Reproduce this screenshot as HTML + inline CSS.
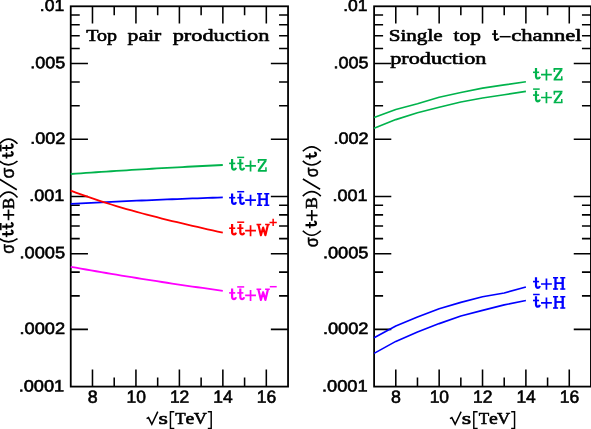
<!DOCTYPE html>
<html><head><meta charset="utf-8"><title>plot</title>
<style>
html,body{margin:0;padding:0;background:#fff;}
body{width:591px;height:429px;overflow:hidden;}
svg{display:block;will-change:transform;}
.ax{stroke:#000;fill:none;stroke-width:1.8;}
.tk{stroke:#000;stroke-width:1.55;fill:none;}
.num{text-rendering:geometricPrecision;font-family:"Liberation Sans",sans-serif;font-size:16.5px;fill:#000;stroke:#000;stroke-width:0.6;}
.ser{font-family:"Liberation Serif",serif;stroke-width:0.6px;stroke-linejoin:round;}
.sb{font-family:"Liberation Sans",sans-serif;stroke:#000;stroke-width:0.5px;}
.cv{fill:none;stroke-linejoin:round;stroke-linecap:butt;}
.ln{fill:none;stroke-linecap:butt;}
</style></head><body>
<svg width="591" height="429" viewBox="0 0 591 429">
<defs>
<g id="gt" fill="none"><path stroke-width="2.2" d="M0 -12V-3.7Q0 -1.5 2 -1.5Q3.4 -1.5 3.9 -3.3"/><path stroke-width="1.6" d="M-3 -7.7H3.1"/></g>
<g id="gZ" fill="none"><path stroke-width="1.7" d="M0.2 -11.45H9.1M0.2 -0.6H9.1"/><path stroke-width="1.5" d="M0.95 -11.45V-8.4M8.35 -0.6V-4.1"/><path stroke-width="2.2" d="M8.1 -10.8L1.2 -1.25"/></g>
<g id="gH" fill="none"><path stroke-width="2.3" d="M2.5 -12.2V-0.2M9.7 -12.2V-0.2"/><path stroke-width="1.5" d="M0 -11.85H5.1M7.2 -11.85H12.3M0 -0.55H5.1M7.2 -0.55H12.3"/><path stroke-width="1.8" d="M2.5 -6.5H9.7"/></g>
<g id="gW" fill="none"><path stroke-width="2.15" stroke-linejoin="round" d="M1.9 -11.4L4.4 -1.0L6.65 -8.7L8.9 -1.0L11.4 -11.4"/><path stroke-width="1.5" d="M0 -11.65H4.7M8.6 -11.65H13.3"/></g>
<g id="gp" fill="none"><path stroke-width="1.7" d="M-5.4 -5.3H5.4M0 -10.7V0.4"/></g>
</defs>
<rect x="0" y="0" width="591" height="429" fill="#fff"/>
<path class="tk" d="M70.75 329.36h17.2M288.05 329.36h-17.2M70.75 295.88h9M288.05 295.88h-9M70.75 272.12h9M288.05 272.12h-9M70.75 253.69h17.2M288.05 253.69h-17.2M70.75 238.63h9M288.05 238.63h-9M70.75 225.9h9M288.05 225.9h-9M70.75 214.88h9M288.05 214.88h-9M70.75 205.15h9M288.05 205.15h-9M70.75 196.45h17.2M288.05 196.45h-17.2M70.75 139.21h17.2M288.05 139.21h-17.2M70.75 105.73h9M288.05 105.73h-9M70.75 81.97h9M288.05 81.97h-9M70.75 63.54h17.2M288.05 63.54h-17.2M70.75 48.48h9M288.05 48.48h-9M70.75 35.75h9M288.05 35.75h-9M70.75 24.73h9M288.05 24.73h-9M70.75 15h9M288.05 15h-9M92.48 6.3v17.2M92.48 386.6v-17.2M114.21 6.3v9M114.21 386.6v-9M135.94 6.3v17.2M135.94 386.6v-17.2M157.67 6.3v9M157.67 386.6v-9M179.4 6.3v17.2M179.4 386.6v-17.2M201.13 6.3v9M201.13 386.6v-9M222.86 6.3v17.2M222.86 386.6v-17.2M244.59 6.3v9M244.59 386.6v-9M266.32 6.3v17.2M266.32 386.6v-17.2"/>
<rect class="ax" x="70.75" y="6.3" width="217.3" height="380.3"/>
<text class="num" x="64.25" y="11" transform="rotate(0.1 64.25 11)" text-anchor="end" textLength="24.4" lengthAdjust="spacingAndGlyphs">.01</text>
<text class="num" x="65.15" y="68.24" transform="rotate(0.1 65.15 68.24)" text-anchor="end" textLength="35.0" lengthAdjust="spacingAndGlyphs">.005</text>
<text class="num" x="65.15" y="143.91" transform="rotate(0.1 65.15 143.91)" text-anchor="end" textLength="35.0" lengthAdjust="spacingAndGlyphs">.002</text>
<text class="num" x="64.25" y="201.15" transform="rotate(0.1 64.25 201.15)" text-anchor="end" textLength="35.0" lengthAdjust="spacingAndGlyphs">.001</text>
<text class="num" x="65.15" y="258.39" transform="rotate(0.1 65.15 258.39)" text-anchor="end" textLength="45.6" lengthAdjust="spacingAndGlyphs">.0005</text>
<text class="num" x="65.15" y="334.06" transform="rotate(0.1 65.15 334.06)" text-anchor="end" textLength="45.6" lengthAdjust="spacingAndGlyphs">.0002</text>
<text class="num" x="64.25" y="391.6" transform="rotate(0.1 64.25 391.6)" text-anchor="end" textLength="45.6" lengthAdjust="spacingAndGlyphs">.0001</text>
<text class="num" x="92.68" y="402.75" style="font-size:17.6px" transform="rotate(0.1 92.68 402.75)" text-anchor="middle" textLength="9.9" lengthAdjust="spacingAndGlyphs">8</text>
<text class="num" x="136.14" y="402.75" style="font-size:17.6px" transform="rotate(0.1 136.14 402.75)" text-anchor="middle" textLength="19.4" lengthAdjust="spacingAndGlyphs">10</text>
<text class="num" x="179.6" y="402.75" style="font-size:17.6px" transform="rotate(0.1 179.6 402.75)" text-anchor="middle" textLength="19.4" lengthAdjust="spacingAndGlyphs">12</text>
<text class="num" x="223.06" y="402.75" style="font-size:17.6px" transform="rotate(0.1 223.06 402.75)" text-anchor="middle" textLength="19.4" lengthAdjust="spacingAndGlyphs">14</text>
<text class="num" x="266.52" y="402.75" style="font-size:17.6px" transform="rotate(0.1 266.52 402.75)" text-anchor="middle" textLength="19.4" lengthAdjust="spacingAndGlyphs">16</text>
<path class="tk" d="M374.1 329.36h17.2M590.95 329.36h-17.2M374.1 295.88h9M590.95 295.88h-9M374.1 272.12h9M590.95 272.12h-9M374.1 253.69h17.2M590.95 253.69h-17.2M374.1 238.63h9M590.95 238.63h-9M374.1 225.9h9M590.95 225.9h-9M374.1 214.88h9M590.95 214.88h-9M374.1 205.15h9M590.95 205.15h-9M374.1 196.45h17.2M590.95 196.45h-17.2M374.1 139.21h17.2M590.95 139.21h-17.2M374.1 105.73h9M590.95 105.73h-9M374.1 81.97h9M590.95 81.97h-9M374.1 63.54h17.2M590.95 63.54h-17.2M374.1 48.48h9M590.95 48.48h-9M374.1 35.75h9M590.95 35.75h-9M374.1 24.73h9M590.95 24.73h-9M374.1 15h9M590.95 15h-9M395.79 6.3v17.2M395.79 386.6v-17.2M417.47 6.3v9M417.47 386.6v-9M439.16 6.3v17.2M439.16 386.6v-17.2M460.84 6.3v9M460.84 386.6v-9M482.53 6.3v17.2M482.53 386.6v-17.2M504.21 6.3v9M504.21 386.6v-9M525.89 6.3v17.2M525.89 386.6v-17.2M547.58 6.3v9M547.58 386.6v-9M569.27 6.3v17.2M569.27 386.6v-17.2"/>
<rect class="ax" x="374.1" y="6.3" width="216.85" height="380.3"/>
<text class="num" x="367.6" y="11" transform="rotate(0.1 367.6 11)" text-anchor="end" textLength="24.4" lengthAdjust="spacingAndGlyphs">.01</text>
<text class="num" x="368.5" y="68.24" transform="rotate(0.1 368.5 68.24)" text-anchor="end" textLength="35.0" lengthAdjust="spacingAndGlyphs">.005</text>
<text class="num" x="368.5" y="143.91" transform="rotate(0.1 368.5 143.91)" text-anchor="end" textLength="35.0" lengthAdjust="spacingAndGlyphs">.002</text>
<text class="num" x="367.6" y="201.15" transform="rotate(0.1 367.6 201.15)" text-anchor="end" textLength="35.0" lengthAdjust="spacingAndGlyphs">.001</text>
<text class="num" x="368.5" y="258.39" transform="rotate(0.1 368.5 258.39)" text-anchor="end" textLength="45.6" lengthAdjust="spacingAndGlyphs">.0005</text>
<text class="num" x="368.5" y="334.06" transform="rotate(0.1 368.5 334.06)" text-anchor="end" textLength="45.6" lengthAdjust="spacingAndGlyphs">.0002</text>
<text class="num" x="367.6" y="391.6" transform="rotate(0.1 367.6 391.6)" text-anchor="end" textLength="45.6" lengthAdjust="spacingAndGlyphs">.0001</text>
<text class="num" x="395.99" y="402.75" style="font-size:17.6px" transform="rotate(0.1 395.99 402.75)" text-anchor="middle" textLength="9.9" lengthAdjust="spacingAndGlyphs">8</text>
<text class="num" x="439.36" y="402.75" style="font-size:17.6px" transform="rotate(0.1 439.36 402.75)" text-anchor="middle" textLength="19.4" lengthAdjust="spacingAndGlyphs">10</text>
<text class="num" x="482.73" y="402.75" style="font-size:17.6px" transform="rotate(0.1 482.73 402.75)" text-anchor="middle" textLength="19.4" lengthAdjust="spacingAndGlyphs">12</text>
<text class="num" x="526.1" y="402.75" style="font-size:17.6px" transform="rotate(0.1 526.1 402.75)" text-anchor="middle" textLength="19.4" lengthAdjust="spacingAndGlyphs">14</text>
<text class="num" x="569.47" y="402.75" style="font-size:17.6px" transform="rotate(0.1 569.47 402.75)" text-anchor="middle" textLength="19.4" lengthAdjust="spacingAndGlyphs">16</text>
<path class="cv" stroke="#00b34c" stroke-width="1.8" d="M70.75 174L75.82 173.64L80.89 173.29L85.95 172.94L91.02 172.59L96.09 172.25L101.16 171.91L106.23 171.57L111.3 171.24L116.37 170.92L121.43 170.59L126.5 170.28L131.57 169.96L136.64 169.65L141.71 169.35L146.78 169.04L151.84 168.75L156.91 168.45L161.98 168.16L167.05 167.88L172.12 167.59L177.19 167.32L182.25 167.04L187.32 166.77L192.39 166.51L197.46 166.25L202.53 165.99L207.59 165.74L212.66 165.49L217.73 165.24L222.8 165"/>
<path class="cv" stroke="#0000ff" stroke-width="1.8" d="M70.75 203.8L75.82 203.55L80.89 203.29L85.95 203.04L91.02 202.8L96.09 202.55L101.16 202.31L106.23 202.08L111.3 201.84L116.37 201.61L121.43 201.38L126.5 201.15L131.57 200.93L136.64 200.71L141.71 200.49L146.78 200.28L151.84 200.06L156.91 199.86L161.98 199.65L167.05 199.45L172.12 199.25L177.19 199.05L182.25 198.85L187.32 198.66L192.39 198.47L197.46 198.29L202.53 198.1L207.59 197.92L212.66 197.75L217.73 197.57L222.8 197.4"/>
<path class="cv" stroke="#ff0000" stroke-width="1.8" d="M70.75 190.68L75.82 192.57L80.89 194.4L85.95 196.19L91.02 197.94L96.09 199.64L101.16 201.3L106.23 202.92L111.3 204.5L116.37 206.04L121.43 207.55L126.5 209.02L131.57 210.46L136.64 211.87L141.71 213.25L146.78 214.6L151.84 215.93L156.91 217.23L161.98 218.51L167.05 219.77L172.12 221.01L177.19 222.23L182.25 223.44L187.32 224.63L192.39 225.81L197.46 226.97L202.53 228.13L207.59 229.27L212.66 230.41L217.73 231.55L222.8 232.68"/>
<path class="cv" stroke="#ff00ff" stroke-width="1.8" d="M70.75 266.8L75.82 267.71L80.89 268.6L85.95 269.49L91.02 270.38L96.09 271.25L101.16 272.12L106.23 272.99L111.3 273.84L116.37 274.69L121.43 275.53L126.5 276.36L131.57 277.19L136.64 278L141.71 278.81L146.78 279.62L151.84 280.41L156.91 281.2L161.98 281.99L167.05 282.76L172.12 283.53L177.19 284.29L182.25 285.04L187.32 285.79L192.39 286.52L197.46 287.25L202.53 287.98L207.59 288.69L212.66 289.4L217.73 290.11L222.8 290.8"/>
<path class="cv" stroke="#00b34c" stroke-width="1.65" d="M374.1 117.6L395.79 109.5L417.47 103.7L439.16 97.2L460.84 92.5L482.53 88.1L504.21 84.9L525.89 81.8"/>
<path class="cv" stroke="#00b34c" stroke-width="1.65" d="M374.1 128.3L395.79 119.6L417.47 112.8L439.16 107.2L460.84 102L482.53 98L504.21 94.7L525.89 91.4"/>
<path class="cv" stroke="#0000ff" stroke-width="1.65" d="M374.1 337.8L395.79 326L417.47 317.1L439.16 308.7L460.84 302.4L482.53 296.7L504.21 293L525.89 287"/>
<path class="cv" stroke="#0000ff" stroke-width="1.65" d="M374.1 353.4L395.79 341.4L417.47 332.1L439.16 323.6L460.84 316L482.53 310.4L504.21 304.9L525.89 300.5"/>
<text class="ser" x="86.3" y="41" font-size="17.5" fill="#000" stroke="#000" textLength="30.81" lengthAdjust="spacingAndGlyphs">Top</text>
<text class="ser" x="127.6" y="41" font-size="17.5" fill="#000" stroke="#000" textLength="33.6" lengthAdjust="spacingAndGlyphs">pair</text>
<text class="ser" x="172.7" y="41" font-size="17.5" fill="#000" stroke="#000" textLength="96.65" lengthAdjust="spacingAndGlyphs">production</text>
<text class="ser" x="388.67" y="41" font-size="17.5" fill="#000" stroke="#000" textLength="53.99" lengthAdjust="spacingAndGlyphs">Single</text>
<text class="ser" x="453.63" y="41" font-size="17.5" fill="#000" stroke="#000" textLength="27.38" lengthAdjust="spacingAndGlyphs">top</text>
<text class="ser" x="511.2" y="41" font-size="17.5" fill="#000" stroke="#000" textLength="70.35" lengthAdjust="spacingAndGlyphs">channel</text>
<text class="ser" x="390.2" y="64" font-size="17.5" fill="#000" stroke="#000" textLength="96.23" lengthAdjust="spacingAndGlyphs">production</text>
<text class="ser" x="158.44" y="424" font-size="17.5" fill="#000" stroke="#000" textLength="9.41" lengthAdjust="spacingAndGlyphs">s</text>
<text class="ser" x="175.3" y="424" font-size="17.5" fill="#000" stroke="#000" textLength="10.43" lengthAdjust="spacingAndGlyphs">T</text>
<text class="ser" x="185.59" y="424" font-size="17.5" fill="#000" stroke="#000" textLength="8.83" lengthAdjust="spacingAndGlyphs">e</text>
<text class="ser" x="193.72" y="424" font-size="17.5" fill="#000" stroke="#000" textLength="13.18" lengthAdjust="spacingAndGlyphs">V</text>
<text class="ser" x="461.79" y="424" font-size="17.5" fill="#000" stroke="#000" textLength="9.41" lengthAdjust="spacingAndGlyphs">s</text>
<text class="ser" x="478.65" y="424" font-size="17.5" fill="#000" stroke="#000" textLength="10.43" lengthAdjust="spacingAndGlyphs">T</text>
<text class="ser" x="488.94" y="424" font-size="17.5" fill="#000" stroke="#000" textLength="8.83" lengthAdjust="spacingAndGlyphs">e</text>
<text class="ser" x="497.07" y="424" font-size="17.5" fill="#000" stroke="#000" textLength="13.18" lengthAdjust="spacingAndGlyphs">V</text>
<path class="ln" stroke="#000" stroke-width="1.5" d="M499.7 36.7H510.7"/>
<use href="#gt" transform="translate(494.9 41.45) scale(0.95)" stroke="#000"/>
<use href="#gt" x="232.1" y="171.1" stroke="#00b34c"/>
<use href="#gt" x="240.3" y="171.1" stroke="#00b34c"/>
<use href="#gp" x="250.55" y="171.1" stroke="#00b34c"/>
<use href="#gZ" x="257.6" y="171.4" stroke="#00b34c"/>
<path class="ln" stroke="#00b34c" stroke-width="1.5" d="M237.2 157.4H244.2"/>
<use href="#gt" x="232.1" y="205.4" stroke="#0000ff"/>
<use href="#gt" x="240.3" y="205.4" stroke="#0000ff"/>
<use href="#gp" x="250.55" y="205.4" stroke="#0000ff"/>
<use href="#gH" x="257" y="205.7" stroke="#0000ff"/>
<path class="ln" stroke="#0000ff" stroke-width="1.5" d="M237.2 191.7H244.2"/>
<use href="#gt" x="232.1" y="235.9" stroke="#ff0000"/>
<use href="#gt" x="240.3" y="235.9" stroke="#ff0000"/>
<use href="#gp" x="250.55" y="235.9" stroke="#ff0000"/>
<use href="#gW" x="256.5" y="236.2" stroke="#ff0000"/>
<path class="ln" stroke="#ff0000" stroke-width="1.5" d="M237.2 222.2H244.2"/>
<use href="#gt" x="232.1" y="300.6" stroke="#ff00ff"/>
<use href="#gt" x="240.3" y="300.6" stroke="#ff00ff"/>
<use href="#gp" x="250.55" y="300.6" stroke="#ff00ff"/>
<use href="#gW" x="256.5" y="300.9" stroke="#ff00ff"/>
<path class="ln" stroke="#ff00ff" stroke-width="1.5" d="M237.2 286.9H244.2"/>
<path class="ln" stroke="#ff0000" stroke-width="1.5" d="M269.5 222.4H276.8M273.15 218.8V226.0"/>
<path class="ln" stroke="#ff00ff" stroke-width="1.5" d="M269.8 286.7H276.7"/>
<use href="#gt" x="536" y="80" stroke="#00b34c"/>
<use href="#gp" x="546.45" y="80" stroke="#00b34c"/>
<use href="#gZ" x="553.4" y="80.3" stroke="#00b34c"/>
<use href="#gt" x="536" y="102.8" stroke="#00b34c"/>
<use href="#gp" x="546.45" y="102.8" stroke="#00b34c"/>
<use href="#gZ" x="553.4" y="103.1" stroke="#00b34c"/>
<path class="ln" stroke="#00b34c" stroke-width="1.5" d="M533.1 89.1H539.7"/>
<use href="#gt" x="536" y="289.3" stroke="#0000ff"/>
<use href="#gp" x="546.45" y="289.3" stroke="#0000ff"/>
<use href="#gH" x="553" y="289.6" stroke="#0000ff"/>
<use href="#gt" x="536" y="308.2" stroke="#0000ff"/>
<use href="#gp" x="546.45" y="308.2" stroke="#0000ff"/>
<use href="#gH" x="553" y="308.5" stroke="#0000ff"/>
<path class="ln" stroke="#0000ff" stroke-width="1.5" d="M533.1 294.5H539.7"/>
<path class="ln" stroke="#000" stroke-width="1.45" stroke-linejoin="miter" d="M174.3 411.7H170.45V428.5H174.3M207.8 411.7H211.2V428.5H207.8"/>
<path class="ln" stroke="#000" stroke-width="1.5" stroke-linejoin="miter" d="M146.6 418.6L148.5 417.6L151.8 424.2L157.8 411.6"/>
<path class="ln" stroke="#000" stroke-width="1.45" stroke-linejoin="miter" d="M477.65 411.7H473.8V428.5H477.65M511.15 411.7H514.55V428.5H511.15"/>
<path class="ln" stroke="#000" stroke-width="1.5" stroke-linejoin="miter" d="M449.95 418.6L451.85 417.6L455.15 424.2L461.15 411.6"/>
<g transform="translate(14.2 0) rotate(-90)">
<text class="sb" x="-253.79" y="0" font-size="18" fill="#000" textLength="9.82" lengthAdjust="spacingAndGlyphs">σ</text>
<text class="ser" x="-209.03" y="-0.5" font-size="17.5" fill="#000" stroke="#000" textLength="11.02" lengthAdjust="spacingAndGlyphs">B</text>
<text class="sb" x="-178.53" y="0" font-size="18" fill="#000" textLength="10.81" lengthAdjust="spacingAndGlyphs">σ</text>
<path class="ln" stroke="#000" stroke-width="1.6" d="M-238.6 -14.7Q-245.2 -5.7 -238.6 3.3M-197.4 -14.7Q-186.8 -5.7 -197.4 3.3M-161 -14.7Q-168.8 -5.7 -161 3.3M-143.8 -14.7Q-134.4 -5.7 -143.8 3.3M-189.7 2.6L-179.3 -14.6M-230.2 -13.4H-223M-151.4 -13.4H-144.6"/>
<use href="#gt" x="-234.2" y="0" stroke="#000"/>
<use href="#gt" x="-226.6" y="0" stroke="#000"/>
<use href="#gt" x="-155.6" y="0" stroke="#000"/>
<use href="#gt" x="-148" y="0" stroke="#000"/>
<use href="#gp" x="-214.9" y="-0.4" stroke="#000"/>
</g>
<g transform="translate(317.5 0) rotate(-90)">
<text class="sb" x="-247.23" y="0" font-size="18" fill="#000" textLength="10.1" lengthAdjust="spacingAndGlyphs">σ</text>
<text class="ser" x="-208.87" y="-0.5" font-size="17.5" fill="#000" stroke="#000" textLength="11.59" lengthAdjust="spacingAndGlyphs">B</text>
<text class="sb" x="-177.29" y="0" font-size="18" fill="#000" textLength="9.82" lengthAdjust="spacingAndGlyphs">σ</text>
<path class="ln" stroke="#000" stroke-width="1.6" d="M-230.8 -14.7Q-239.8 -5.7 -230.8 3.3M-196.1 -14.7Q-187.1 -5.7 -196.1 3.3M-160.9 -14.7Q-169.1 -5.7 -160.9 3.3M-151.2 -14.7Q-142.4 -5.7 -151.2 3.3M-189.3 2.6L-179 -14.6"/>
<use href="#gt" x="-225.2" y="0" stroke="#000"/>
<use href="#gt" x="-156.3" y="0" stroke="#000"/>
<use href="#gp" x="-215.4" y="-0.4" stroke="#000"/>
</g>
</svg></body></html>
